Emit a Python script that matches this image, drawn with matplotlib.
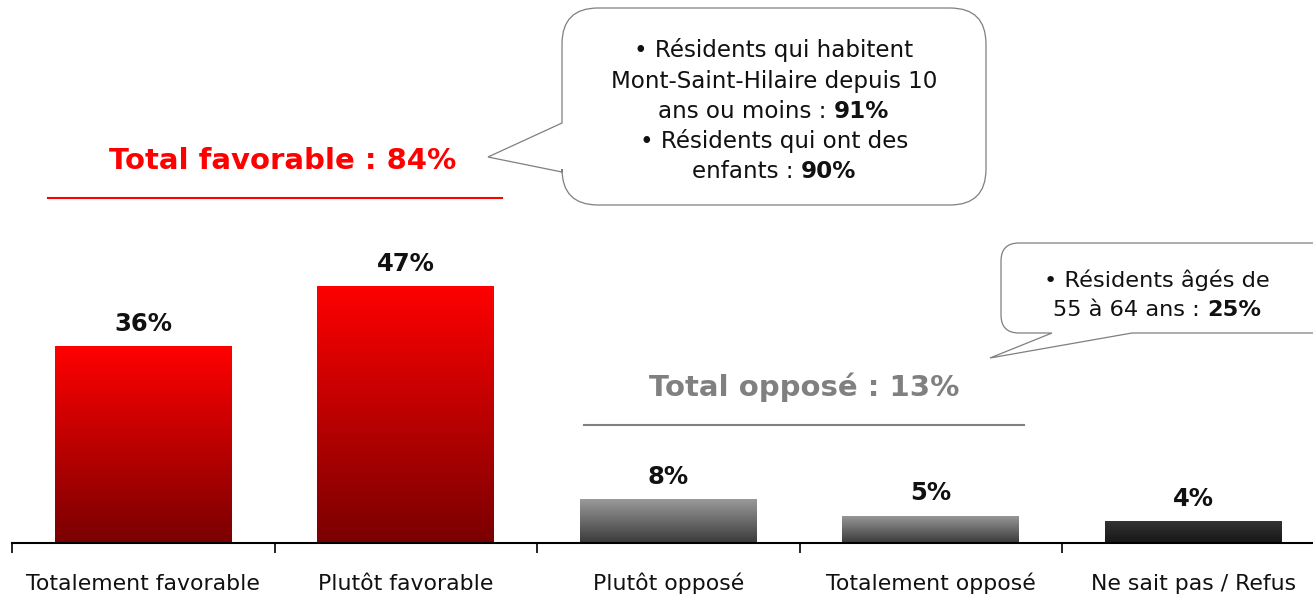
import numpy as np
import matplotlib
matplotlib.use("Agg")
import matplotlib.pyplot as plt
from matplotlib.path import Path
from matplotlib.patches import PathPatch
from matplotlib.lines import Line2D
from matplotlib.colors import LinearSegmentedColormap

# ---------------- data ----------------
categories = ["Totalement favorable", "Plutôt favorable", "Plutôt opposé",
              "Totalement opposé", "Ne sait pas / Refus"]
values = [36, 47, 8, 5, 4]
value_labels = ["36%", "47%", "8%", "5%", "4%"]
total_fav_label = "Total favorable : 84%"
total_opp_label = "Total opposé : 13%"
bubble1_lines = [("• Résidents qui habitent", ""),
                 ("Mont-Saint-Hilaire depuis 10", ""),
                 ("ans ou moins :", "91%"),
                 ("• Résidents qui ont des", ""),
                 ("enfants :", "90%")]
bubble2_lines = [("• Résidents âgés de", ""),
                 ("55 à 64 ans :", "25%")]

# bar gradient colours (bottom, top)
bar_gradients = [("#7a0000", "#ff0000"), ("#7a0000", "#ff0000"),
                 ("#3a3a3a", "#9a9a9a"), ("#3a3a3a", "#9a9a9a"),
                 ("#171717", "#333333")]

W, H = 1313, 596
plt.rcParams["font.family"] = ["DejaVu Sans"]
fig = plt.figure(figsize=(W / 100, H / 100), dpi=100)
fig.patch.set_facecolor("white")


def fx(px):
    return px / W


def fy(py):
    return 1 - py / H


base_py = 543
ax = fig.add_axes([fx(12), fy(base_py), (W - 12) / W, base_py / H])
ax.patch.set_alpha(0)

x = np.arange(len(categories))
bars = ax.bar(x, values, width=0.674, color="none", edgecolor="none", zorder=2)
grad = np.linspace(0, 1, 256).reshape(-1, 1)
for patch, (c0, c1) in zip(bars.patches, bar_gradients):
    bx, by = patch.get_x(), patch.get_y()
    bw, bh = patch.get_width(), patch.get_height()
    cmap = LinearSegmentedColormap.from_list("g", [c0, c1])
    im = ax.imshow(grad, extent=[bx, bx + bw, by, by + bh], origin="lower",
                   cmap=cmap, aspect="auto", zorder=2, interpolation="bilinear")
    im.set_clip_path(patch)

for xi, v, lbl in zip(x, values, value_labels):
    ax.annotate(lbl, xy=(xi, v), xytext=(0, 11), textcoords="offset points",
                ha="center", va="baseline", fontsize=17.5, fontweight="bold",
                color="#111111")

for s in ["top", "right", "left"]:
    ax.spines[s].set_visible(False)
ax.spines["bottom"].set_linewidth(1.5)
ax.spines["bottom"].set_color("black")
ax.set_yticks([])
ax.set_xticks(x)
ax.set_xticklabels(categories, fontsize=15.8, color="#111111", va="baseline")
ax.tick_params(axis="x", which="major", length=0, pad=33.5)
ax.set_xticks(np.arange(-0.5, len(categories) + 0.5, 1), minor=True)
ax.tick_params(axis="x", which="minor", length=7.5, width=1.2,
               direction="out", color="black")
cat_w = 262.5
ax.set_xlim(-0.5, -0.5 + (W - 12) / cat_w)
ax.set_ylim(0, base_py / 5.47)

# ---------------- totals ----------------
fig.text(fx(283), fy(169), total_fav_label, color="#ff0000", fontsize=21,
         fontweight="bold", ha="center", va="baseline")
fig.add_artist(Line2D([fx(48), fx(502)], [fy(198), fy(198)],
                      color="#ff0000", lw=1.5))
fig.text(fx(804), fy(396), total_opp_label, color="#808080", fontsize=21,
         fontweight="bold", ha="center", va="baseline")
fig.add_artist(Line2D([fx(584), fx(1024)], [fy(425), fy(425)],
                      color="#808080", lw=1.5))


# ---------------- callout bubbles ----------------
def bubble(x0, y0, x1, y1, r, side, a, b, tip):
    L, C, M = Path.LINETO, Path.CURVE3, Path.MOVETO
    v = [(x0 + r, y0)]
    c = [M]
    v += [(x1 - r, y0), (x1, y0), (x1, y0 + r)]
    c += [L, C, C]
    v += [(x1, y1 - r), (x1, y1), (x1 - r, y1)]
    c += [L, C, C]
    if side == "bottom":
        v += [(b, y1), tip, (a, y1)]
        c += [L, L, L]
    v += [(x0 + r, y1), (x0, y1), (x0, y1 - r)]
    c += [L, C, C]
    if side == "left":
        v += [(x0, b), tip, (x0, a)]
        c += [L, L, L]
    v += [(x0, y0 + r), (x0, y0), (x0 + r, y0), (x0 + r, y0)]
    c += [L, C, C, Path.CLOSEPOLY]
    verts = [(fx(px), fy(py)) for px, py in v]
    p = PathPatch(Path(verts, c), transform=fig.transFigure, facecolor="white",
                  edgecolor="#7f7f7f", lw=0.9, zorder=5)
    fig.add_artist(p)


bubble(562, 8, 986, 205, 36, "left", 123, 172, (488, 157))
bubble(1001, 243, 1340, 333, 18, "bottom", 1052, 1132, (990, 358))


def text_block(lines, cx, baselines, fs):
    items = []
    for (normal, bold), bpy in zip(lines, baselines):
        t1 = fig.text(fx(cx), fy(bpy), normal, fontsize=fs, ha="left",
                      va="baseline", color="#111111", zorder=6)
        t2 = None
        if bold:
            t2 = fig.text(fx(cx), fy(bpy), bold, fontsize=fs, ha="left",
                          va="baseline", fontweight="bold", color="#111111",
                          zorder=6)
        items.append((t1, t2))
    fig.canvas.draw()
    r = fig.canvas.get_renderer()
    space = 0.318 * fs * 100 / 72
    for t1, t2 in items:
        w1 = t1.get_window_extent(r).width
        w2 = t2.get_window_extent(r).width if t2 is not None else 0
        total = w1 + (space + w2 if t2 is not None else 0)
        start = cx - total / 2
        t1.set_x(fx(start))
        if t2 is not None:
            t2.set_x(fx(start + w1 + space))


text_block(bubble1_lines, 774, [57, 88, 118, 148, 178], 16.6)
text_block(bubble2_lines, 1157, [287, 316], 16.2)

fig.savefig("out.png", dpi=100, facecolor="white")
